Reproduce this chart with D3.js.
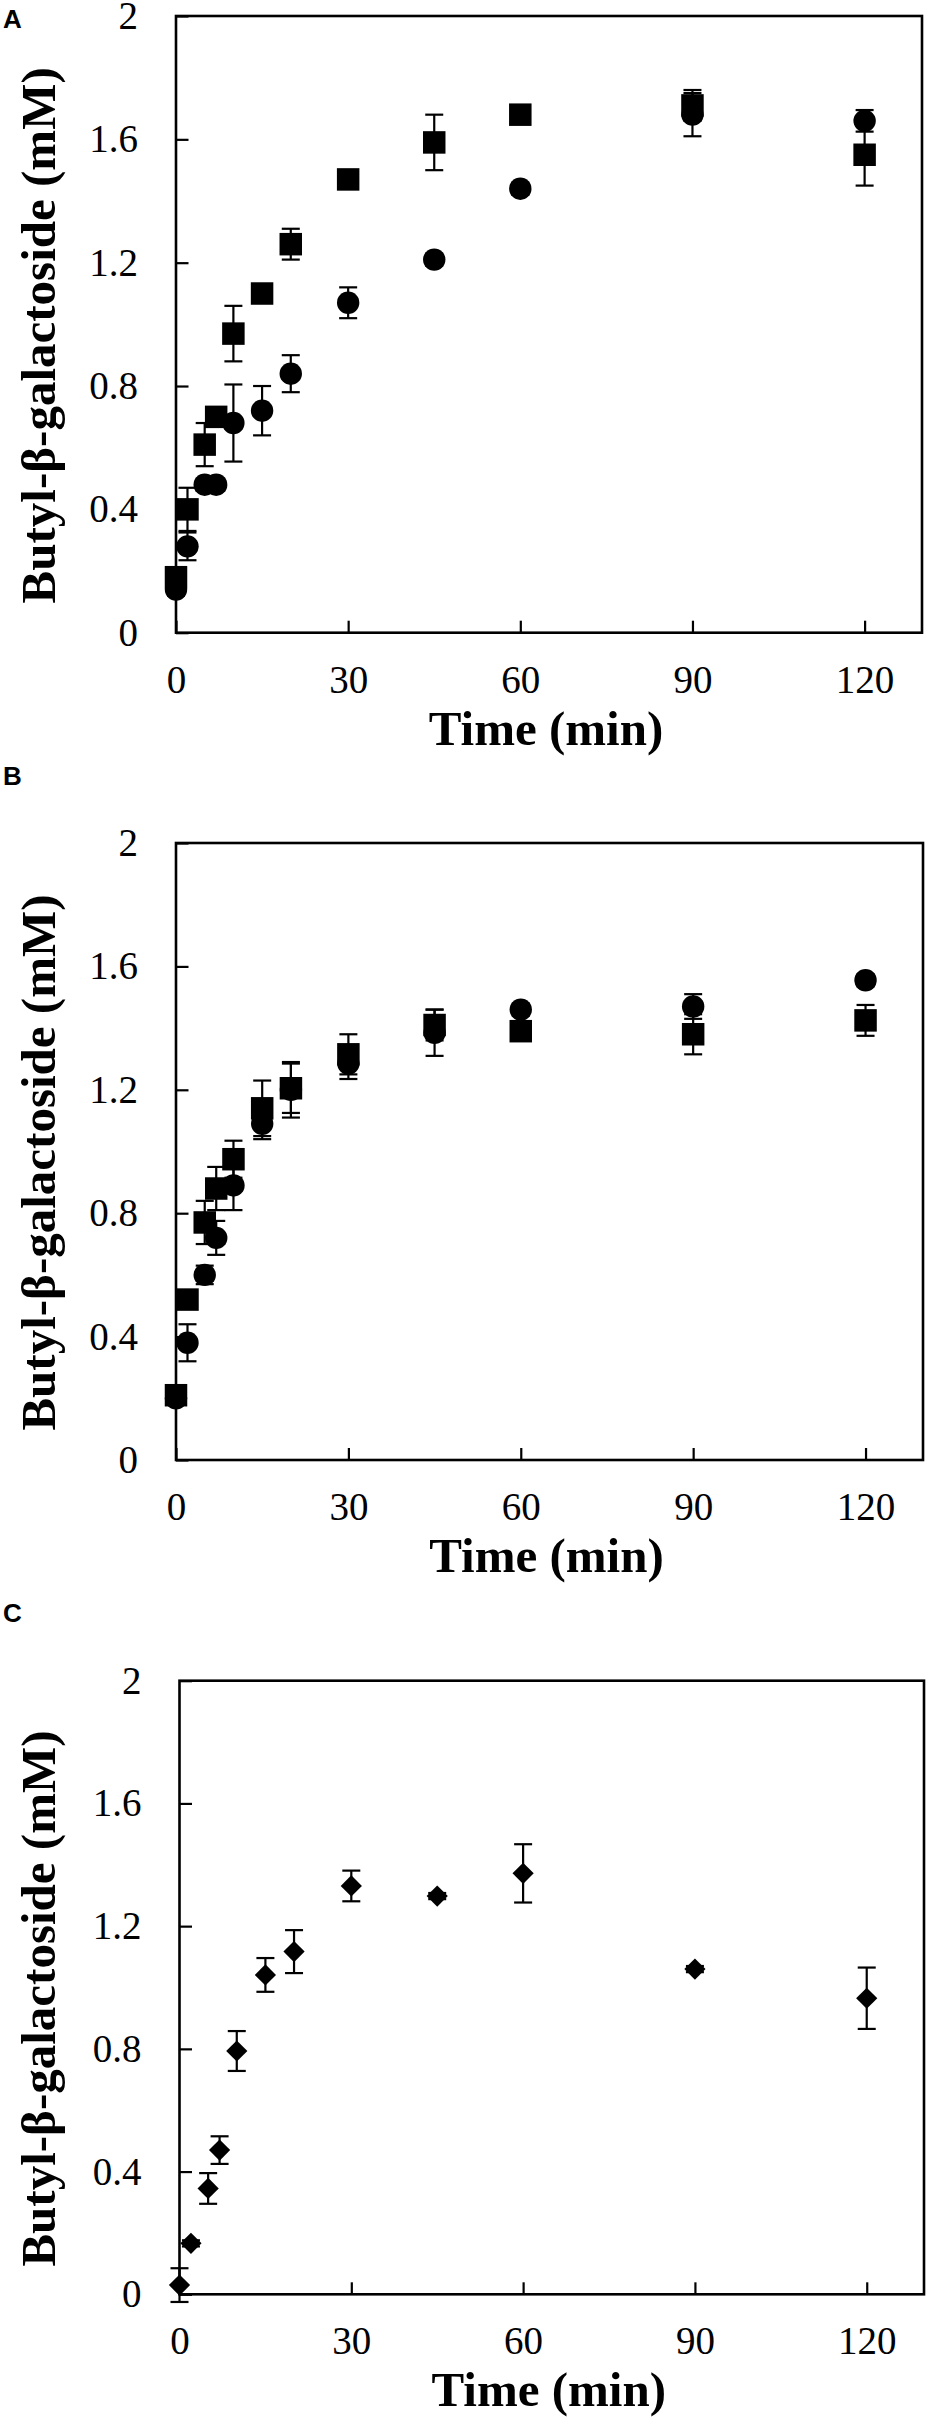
<!DOCTYPE html>
<html><head><meta charset="utf-8">
<script src="https://cdn.jsdelivr.net/npm/d3@7"></script>
<style>body{margin:0;background:#fff}svg{display:block}</style>
</head><body>
<script>
// ---- data ----
const times = [0, 2, 5, 7, 10, 15, 20, 30, 45, 60, 90, 120];
const xTicks = [0, 30, 60, 90, 120];
const yTicks = [0, 0.4, 0.8, 1.2, 1.6, 2];
const yTickLabels = ["0", "0.4", "0.8", "1.2", "1.6", "2"];
const panelLabels = ["A", "B", "C"];
const xTitle = "Time (min)";
const yTitle = "Butyl-β-galactoside (mM)";

// Panel A
const aSquare    = [0.18, 0.40, 0.61, 0.70, 0.97, 1.10, 1.26, 1.47, 1.59, 1.68, 1.71, 1.55];
const aSquareErr = [0.02, 0.07, 0.07, 0.02, 0.09, 0.02, 0.05, 0.02, 0.09, 0.02, 0.05, 0.10];
const aCircle    = [0.14, 0.28, 0.48, 0.48, 0.68, 0.72, 0.84, 1.07, 1.21, 1.44, 1.68, 1.66];
const aCircleErr = [0.02, 0.045, 0.02, 0.02, 0.125, 0.08, 0.06, 0.05, 0.02, 0.02, 0.07, 0.035];
// Panel B
const bSquare    = [0.21, 0.52, 0.77, 0.88, 0.975, 1.14, 1.205, 1.315, 1.41, 1.39, 1.38, 1.425];
const bSquareErr = [0.02, 0.02, 0.07, 0.07, 0.06, 0.09, 0.08, 0.065, 0.05, 0.02, 0.065, 0.05];
const bCircle    = [0.20, 0.38, 0.60, 0.72, 0.89, 1.09, 1.20, 1.285, 1.385, 1.46, 1.47, 1.555];
const bCircleErr = [0.02, 0.06, 0.03, 0.055, 0.08, 0.05, 0.09, 0.05, 0.075, 0.02, 0.04, 0.02];
// Panel C
const cDiamond    = [0.03, 0.166, 0.345, 0.47, 0.793, 1.041, 1.117, 1.331, 1.298, 1.372, 1.06, 0.965];
const cDiamondErr = [0.055, 0.01, 0.05, 0.045, 0.065, 0.055, 0.07, 0.05, 0.01, 0.095, 0.01, 0.10];

// ---- layout ----
const W = 929, H = 2422;
const panels = [
  {label: panelLabels[0], left: 176, right: 922, top: 16, bottom: 632.7, labelY: 28,
   series: [{v: aSquare, e: aSquareErr, shape: "square"}, {v: aCircle, e: aCircleErr, shape: "circle"}]},
  {label: panelLabels[1], left: 176, right: 923, top: 843, bottom: 1460, labelY: 785,
   series: [{v: bSquare, e: bSquareErr, shape: "square"}, {v: bCircle, e: bCircleErr, shape: "circle"}]},
  {label: panelLabels[2], left: 179.5, right: 924, top: 1680.7, bottom: 2294.3, labelY: 1622,
   series: [{v: cDiamond, e: cDiamondErr, shape: "diamond"}]}
];

const svg = d3.select("body").append("svg").attr("width", W).attr("height", H)
  .style("background", "#fff");

const serif = "'Liberation Serif','Times New Roman',Times,serif";
const sans = "'Liberation Sans',Arial,Helvetica,sans-serif";

const symbols = {
  square: d3.symbol().type(d3.symbolSquare).size(22.5 * 22.5),
  circle: d3.symbol().type(d3.symbolCircle).size(Math.PI * 11.2 * 11.2),
  diamond: d3.symbol().type(d3.symbolSquare).size(15 * 15)
};

panels.forEach(p => {
  const x = d3.scaleLinear().domain([0, 130]).range([p.left, p.right]);
  const y = d3.scaleLinear().domain([0, 2]).range([p.bottom, p.top]);

  // panel letter
  svg.append("text").attr("x", 3).attr("y", p.labelY)
    .attr("font-family", sans).attr("font-weight", "bold").attr("font-size", 26)
    .text(p.label);

  // y axis
  const ya = svg.append("g").attr("transform", `translate(${p.left},0)`)
    .call(d3.axisLeft(y).tickValues(yTicks).tickFormat((d, i) => yTickLabels[i])
      .tickSizeInner(-12.5).tickSizeOuter(0).tickPadding(p.left === 176 ? 38 : 38));
  ya.select(".domain").remove();
  ya.selectAll(".tick line").attr("stroke", "#000").attr("stroke-width", 2.2);
  ya.selectAll(".tick text").attr("font-family", serif).attr("font-size", 39).attr("fill", "#000");

  // x axis
  const xa = svg.append("g").attr("transform", `translate(0,${p.bottom})`)
    .call(d3.axisBottom(x).tickValues(xTicks).tickFormat(d3.format("d"))
      .tickSizeInner(-12).tickSizeOuter(0).tickPadding(32.5));
  xa.select(".domain").remove();
  xa.selectAll(".tick line").attr("stroke", "#000").attr("stroke-width", 2.2);
  xa.selectAll(".tick text").attr("font-family", serif).attr("font-size", 39).attr("fill", "#000");

  // frame
  svg.append("rect").attr("x", p.left).attr("y", p.top)
    .attr("width", p.right - p.left).attr("height", p.bottom - p.top)
    .attr("fill", "none").attr("stroke", "#000").attr("stroke-width", 2.6);

  // titles
  svg.append("text").attr("x", (p.left + p.right) / 2 - 3).attr("y", p.bottom + 112)
    .attr("text-anchor", "middle").attr("font-family", serif).attr("font-weight", "bold")
    .attr("font-size", 49).text(xTitle);
  const cy = (p.top + p.bottom) / 2 + 11;
  svg.append("text").attr("transform", `translate(55,${cy}) rotate(-90)`)
    .attr("text-anchor", "middle").attr("font-family", serif).attr("font-weight", "bold")
    .attr("font-size", 49).text(yTitle);

  // error bars
  const g = svg.append("g");
  p.series.forEach(s => {
    const data = times.map((t, i) => ({t, v: s.v[i], e: s.e[i]}));
    const eb = g.append("g").attr("stroke", "#000").attr("stroke-width", 2.2);
    data.forEach(d => {
      const cx = x(d.t), y1 = y(d.v + d.e), y2 = y(d.v - d.e);
      eb.append("line").attr("x1", cx).attr("x2", cx).attr("y1", y1).attr("y2", y2);
      eb.append("line").attr("x1", cx - 9).attr("x2", cx + 9).attr("y1", y1).attr("y2", y1);
      eb.append("line").attr("x1", cx - 9).attr("x2", cx + 9).attr("y1", y2).attr("y2", y2);
    });
  });
  // markers
  p.series.forEach(s => {
    const data = times.map((t, i) => ({t, v: s.v[i]}));
    g.append("g").selectAll("path").data(data).join("path")
      .attr("d", symbols[s.shape])
      .attr("transform", d => `translate(${x(d.t)},${y(d.v)})` + (s.shape === "diamond" ? " rotate(45)" : ""))
      .attr("fill", "#000");
  });
});
</script>
</body></html>
